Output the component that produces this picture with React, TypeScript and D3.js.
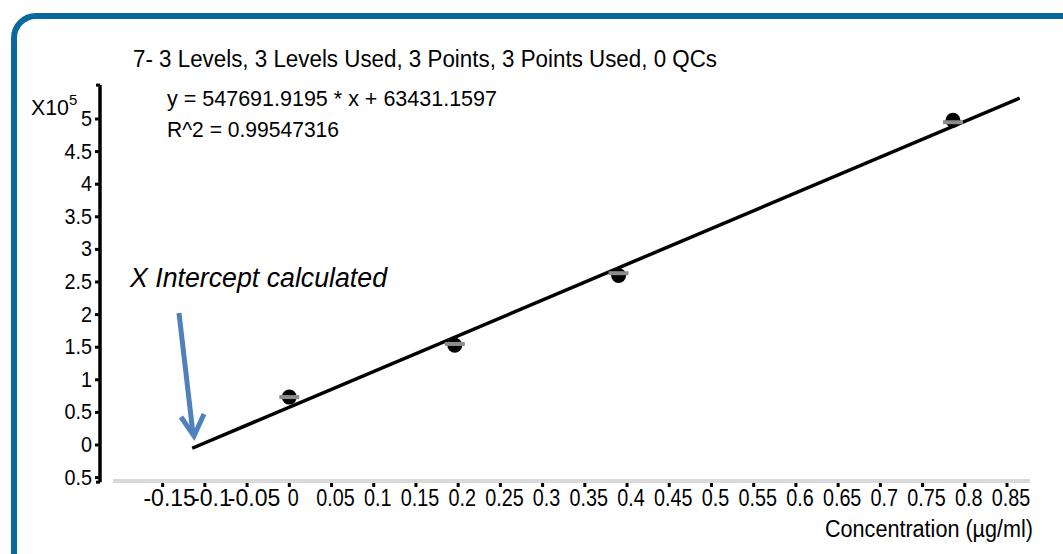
import React from "react";
import { scaleLinear, line } from "d3";

const width = 1063;
const height = 554;

const title = "7- 3 Levels, 3 Levels Used, 3 Points, 3 Points Used, 0 QCs";
const equationText = "y = 547691.9195 * x  + 63431.1597";
const r2Text = "R^2 = 0.99547316";
const annotation = "X  Intercept calculated";
const xAxisTitle = "Concentration (µg/ml)";

// fitted line as drawn in the chart (x10^5)
const fitConc = [-0.115, 0.865];
const fitResp = [-0.05, 5.32];

const xTicks = [-0.15, -0.1, -0.05, 0, 0.05, 0.1, 0.15, 0.2, 0.25, 0.3, 0.35, 0.4, 0.45, 0.5, 0.55, 0.6, 0.65, 0.7, 0.75, 0.8, 0.85];
const xTickLabels = ["-0.15", "-0.1", "-0.05", "0", "0.05", "0.1", "0.15", "0.2", "0.25", "0.3", "0.35", "0.4", "0.45", "0.5", "0.55", "0.6", "0.65", "0.7", "0.75", "0.8", "0.85"];
const yTicks = [-0.5, 0, 0.5, 1, 1.5, 2, 2.5, 3, 3.5, 4, 4.5, 5];
const yTickLabels = ["0.5", "0", "0.5", "1", "1.5", "2", "2.5", "3", "3.5", "4", "4.5", "5"];

// calibration points (x10^5)
const concentrations = [0, 0.196, 0.39, 0.786];
const responses = [0.735, 1.53, 2.6, 4.98];
const means = [0.735, 1.55, 2.635, 4.95];

const font = "'Liberation Sans', Arial, sans-serif";

export default function App() {
  const x = scaleLinear().domain([0, 0.85]).range([289.3, 1007]);
  const y = scaleLinear().domain([0, 5]).range([445, 119]);
  const yTop = 5.52;
  const yBottom = -0.57;

  const fitPts: [number, number][] = fitConc.map((c, i) => [c, fitResp[i]]);
  const fitPath = line<[number, number]>()
    .x((d) => x(d[0]))
    .y((d) => y(d[1]))(fitPts);

  const axisX = 100;

  return (
    <svg width={width} height={height} style={{ position: "absolute", left: 0, top: 0, background: "#fff" }}>
      <rect x={14} y={16} width={1090} height={580} rx={22} ry={22} fill="none" stroke="#0b689f" strokeWidth={6} />

      <text x={133} y={67} fontFamily={font} fontSize={23} textLength={584} lengthAdjust="spacingAndGlyphs" fill="#000">
        {title}
      </text>
      <text x={167} y={106} fontFamily={font} fontSize={22} textLength={330} lengthAdjust="spacingAndGlyphs" fill="#000">
        {equationText}
      </text>
      <text x={167} y={137} fontFamily={font} fontSize={22} textLength={172} lengthAdjust="spacingAndGlyphs" fill="#000">
        {r2Text}
      </text>

      {/* y axis */}
      <text x={31} y={115} fontFamily={font} fontSize={22} textLength={38} lengthAdjust="spacingAndGlyphs" fill="#000">X10</text>
      <text x={69} y={105} fontFamily={font} fontSize={15} fill="#000">5</text>
      <line x1={axisX} x2={axisX} y1={y(yTop)} y2={y(yBottom)} stroke="#000" strokeWidth={3.5} />
      {[yTop, yBottom].map((v) => (
        <line key={v} x1={axisX - 4} x2={axisX} y1={y(v)} y2={y(v)} stroke="#000" strokeWidth={3} />
      ))}
      {yTicks.map((v, i) => (
        <g key={v}>
          <line x1={axisX - 5} x2={axisX} y1={y(v)} y2={y(v)} stroke="#000" strokeWidth={3} />
          <text
            transform={`translate(${axisX - 8},${y(v) + 7}) scale(0.9,1)`}
            textAnchor="end"
            fontFamily={font}
            fontSize={22}
            fill="#000"
          >
            {yTickLabels[i]}
          </text>
        </g>
      ))}

      {/* x axis */}
      <line x1={113} x2={1030} y1={481} y2={481} stroke="#d9d9d9" strokeWidth={4} />
      {xTicks.map((v, i) => (
        <g key={v}>
          <rect x={x(v) - 1.5} y={483} width={3} height={4} fill="#000" />
          <text
            transform={`translate(${x(v) + (v < 0 ? 7 : 4)},506) scale(${v < 0 ? 1 : 0.86},1)`}
            textAnchor="middle"
            fontFamily={font}
            fontSize={23}
            fill="#000"
          >
            {xTickLabels[i]}
          </text>
        </g>
      ))}
      <text x={1033} y={537} textAnchor="end" fontFamily={font} fontSize={23} textLength={208} lengthAdjust="spacingAndGlyphs" fill="#000">
        {xAxisTitle}
      </text>

      {/* fit line */}
      <path d={fitPath || ""} fill="none" stroke="#000" strokeWidth={3.5} />

      {/* calibration points */}
      {concentrations.map((c, i) => (
        <g key={i}>
          <circle cx={x(c)} cy={y(responses[i])} r={7.5} fill="#000" />
          <rect x={x(c) - 10} y={y(means[i]) - 2} width={20} height={4} fill="#8c8c8c" />
        </g>
      ))}

      {/* annotation */}
      <text x={130} y={287} fontFamily={font} fontSize={27} fontStyle="italic" textLength={257} lengthAdjust="spacingAndGlyphs" fill="#000">
        {annotation}
      </text>
      <line x1={179} y1={313} x2={193} y2={434} stroke="#4f81bd" strokeWidth={5} />
      <polyline points="181,417 194,436 204,414" fill="none" stroke="#4f81bd" strokeWidth={5} strokeLinejoin="miter" />
    </svg>
  );
}
